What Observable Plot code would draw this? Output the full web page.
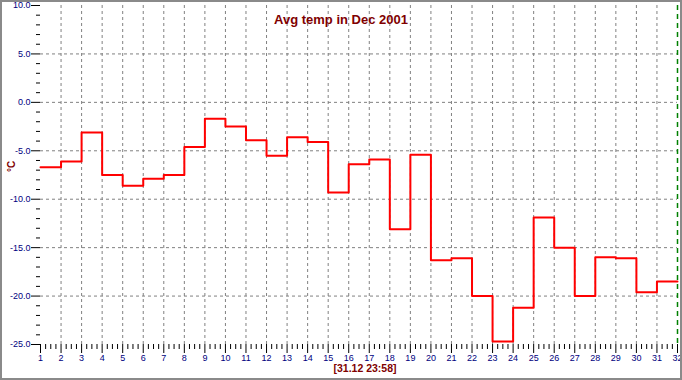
<!DOCTYPE html>
<html>
<head>
<meta charset="utf-8">
<script src="https://cdn.jsdelivr.net/npm/d3@7"></script>
<script src="https://cdn.jsdelivr.net/npm/@observablehq/plot@0.6"></script>
<style>
  html, body { margin: 0; padding: 0; background: #fff; }
  #chart svg { display: block; outline: 2px solid #8a8a8a; outline-offset: -2px; }
</style>
</head>
<body>
<div id="chart"></div>
<script>
// Data
const days = [1,2,3,4,5,6,7,8,9,10,11,12,13,14,15,16,17,18,19,20,21,22,23,24,25,26,27,28,29,30,31];
const temps = [-6.7,-6.1,-3.1,-7.5,-8.6,-7.9,-7.5,-4.6,-1.7,-2.5,-3.9,-5.5,-3.6,-4.1,-9.3,-6.4,-5.9,-13.1,-5.4,-16.3,-16.1,-20.0,-24.7,-21.2,-11.9,-15.0,-20.0,-16.0,-16.1,-19.6,-18.5];
const titleText = "Avg temp in Dec 2001";
const captionText = "[31.12 23:58]";
const yUnit = "°C";
const yMajorTicks = [10, 5, 0, -5, -10, -15, -20, -25];
const yGridTicks = [5, 0, -5, -10, -15, -20];
const yMinorTicks = [9,8,7,6,4,3,2,1,-1,-2,-3,-4,-6,-7,-8,-9,-11,-12,-13,-14,-16,-17,-18,-19,-21,-22,-23,-24];
const xMajorTicks = [1,2,3,4,5,6,7,8,9,10,11,12,13,14,15,16,17,18,19,20,21,22,23,24,25,26,27,28,29,30,31,32];
const xGridTicks = xMajorTicks.slice(1, -1);
const xEnd = [32];
const xMinorTicks = xMajorTicks.slice(0, -1).flatMap(d => [d + 0.25, d + 0.5, d + 0.75]);

const series = days.map((d, i) => ({day: d, t: temps[i]}));
series.push({day: xEnd[0], t: temps[temps.length - 1]});

const navy = "#000080";
const maroon = "#800000";

const chart = Plot.plot({
  width: 682,
  height: 380,
  marginLeft: 40,
  marginRight: 5,
  marginTop: 5,
  marginBottom: 36,
  style: {fontFamily: "'Liberation Sans', Arial, sans-serif", fontSize: "9px", background: "#fff", color: "black"},
  x: {domain: [1, 32]},
  y: {domain: [-25, 10]},
  marks: [
    Plot.gridY(yGridTicks, {stroke: "#808080", strokeOpacity: 1, strokeDasharray: "3,3"}),
    Plot.gridX(xGridTicks, {stroke: "#808080", strokeOpacity: 1, strokeDasharray: "3,3"}),
    Plot.ruleX(xEnd, {stroke: "#008000", strokeWidth: 1.5, strokeDasharray: "5,4"}),
    Plot.line(series, {x: "day", y: "t", curve: "step-after", stroke: "#ff0000", strokeWidth: 2}),
    Plot.axisY(yMajorTicks, {tickSize: 9, tickPadding: 1, tickFormat: d => d.toFixed(1), fill: navy, stroke: "black", label: null}),
    Plot.axisY(yMinorTicks, {tickSize: 4, tickFormat: () => "", stroke: "black", label: null}),
    Plot.axisX(xMajorTicks, {tickSize: 9, tickPadding: 1, tickFormat: d => String(d), fill: navy, stroke: "black", label: null}),
    Plot.axisX(xMinorTicks, {tickSize: 5, tickFormat: () => "", stroke: "black", label: null}),
    Plot.text([titleText], {frameAnchor: "top", dx: -18, dy: 9, fill: maroon, fontSize: 13, fontWeight: "bold"}),
    Plot.text([captionText], {frameAnchor: "bottom", dx: 6, dy: 27, fill: maroon, fontSize: 10.5, fontWeight: "bold"}),
    Plot.text([yUnit], {frameAnchor: "left", dx: -29, dy: -3, rotate: -90, fill: maroon, fontSize: 10, fontWeight: "bold"})
  ]
});
document.getElementById("chart").append(chart);
</script>
</body>
</html>
